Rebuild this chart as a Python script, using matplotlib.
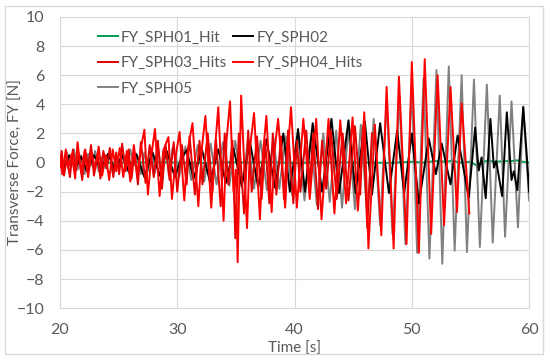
import matplotlib.pyplot as plt
from matplotlib.patches import Rectangle

plt.rcParams['font.family'] = ['Lato', 'DejaVu Sans']

# ---- data (time [s], force [N]) ----
t_sph01 = [20, 22, 24, 26, 28, 30, 32, 34, 36, 38, 40, 42, 44, 46, 48, 50,
           51, 52, 53, 53.5, 54, 55, 55.5, 56, 56.5, 57, 58, 58.5, 59, 59.5, 60]
fy_sph01 = [0.0, 0.02, -0.02, 0.0, 0.03, 0.0, -0.03, 0.02, 0.0, 0.03, -0.02, 0.0, 0.02, 0.0, -0.02, 0.05,
            0.0, 0.1, 0.05, 0.15, 0.0, 0.05, -0.2, 0.0, 0.15, 0.05, 0.1, 0.1, 0.15, 0.05, 0.0]

t_sph02 = [20.0, 20.4, 20.8, 21.3, 21.8, 22.3, 22.9, 23.5, 24.1, 24.7, 25.3, 25.9, 26.5, 27.2, 27.9,
           28.5, 29.1, 29.8, 30.3, 30.8, 31.4, 32.1, 32.8, 33.5, 34.15, 34.8, 35.5, 36.2, 36.9, 37.6,
           38.35, 39.05, 39.6, 40.3, 40.9, 41.55, 42.35, 43.15, 43.8, 44.6, 45.2, 46.0, 46.6, 47.3,
           48.05, 48.75, 49.35, 50.0, 50.6, 51.45, 52.05, 52.55, 53.3, 53.9, 54.85, 55.4, 55.7, 55.95,
           56.3, 56.7, 57.0, 57.2, 57.7, 58.1, 58.5, 58.7, 59.0, 59.5, 59.8, 60.0]
fy_sph02 = [0.3, -0.3, 0.5, -0.4, 0.4, -0.6, 0.5, -0.5, 0.6, -0.5, 0.5, -0.7, 0.6, -1.0, 0.7,
            -0.9, 0.8, -1.0, 0.2, 0.85, -1.1, 0.9, -1.35, 0.9, -1.4, 0.95, -1.6, 1.4, -1.7, 1.6,
            -1.75, 2.0, -2.0, 2.3, -2.0, 2.7, -2.0, 3.0, -2.1, 2.9, -2.1, 2.8, -2.2, 2.7,
            -2.1, 2.2, -2.1, 2.0, -2.8, 1.65, -0.8, 1.3, -1.5, 1.85, -2.4, 2.4, -0.55, 0.35,
            -2.45, 3.0, -0.35, 0.1, -2.3, 3.45, -1.2, -0.6, -1.9, 3.8, 0.5, -2.0]

t_sph03 = [20.0, 20.15, 20.35, 20.6, 20.85, 21.1, 21.35, 21.6, 21.9, 22.15, 22.4, 22.65, 22.9, 23.2,
           23.45, 23.7, 24.0, 24.25, 24.55, 24.8, 25.05, 25.3, 25.6, 25.85, 26.1, 26.35, 26.65, 26.9,
           27.3, 27.65, 28.0, 28.35, 28.7, 29.0, 29.35, 29.7, 30.0, 30.4, 30.8, 31.05, 31.5, 31.9,
           32.15, 32.6, 33.0, 33.3, 33.7, 34.05, 34.35, 34.7, 34.95, 35.25, 35.7, 36.05, 36.35, 36.8,
           37.2, 37.5, 37.85, 38.15, 38.45, 38.85, 39.1, 39.45, 39.9, 40.2, 40.5, 41.0, 41.3, 41.6,
           42.0, 42.35, 42.7, 43.1, 43.6, 44.1, 44.6, 45.15, 45.6, 45.85, 46.2, 46.6]
fy_sph03 = [-0.3, 0.8, -0.9, 0.4, -1.0, 0.9, -0.5, 0.6, -1.2, 0.9, -0.3, 1.2, -0.9, 0.6,
            -1.1, 0.8, -0.4, 1.0, -1.0, 0.7, -0.8, 1.3, -0.6, 0.9, -1.1, 0.6, -1.5, 1.4,
            -1.4, 1.2, -1.0, 1.5, -1.8, 1.2, -1.2, 1.4, -2.0, 1.2, -1.5, 1.8, -2.2, 1.5,
            -1.5, 2.0, -2.0, 1.6, -3.0, 2.0, -1.5, 1.5, -5.2, 2.0, -3.5, 2.2, -2.0, 1.8,
            -2.5, 1.5, -2.8, 2.0, -2.2, 1.8, -2.5, 2.2, -2.8, 1.5, -2.0, 2.2, -1.5, 2.0,
            -3.2, 1.5, -1.8, 2.2, -2.5, 2.0, -2.6, 2.5, -2.2, 2.5, -4.5, 2.0]

t_sph04 = [20.0, 20.2, 20.5, 20.7, 21.0, 21.3, 21.5, 21.8, 22.1, 22.4, 22.7, 23.0, 23.3, 23.6,
           23.9, 24.2, 24.5, 24.8, 25.1, 25.4, 25.7, 26.0, 26.3, 26.6, 26.9, 27.2, 27.5, 27.8,
           28.1, 28.5, 28.8, 29.25, 29.55, 29.9, 30.2, 30.6, 30.9, 31.3, 31.8, 32.1, 32.4, 32.9,
           33.2, 33.5, 33.95, 34.2, 34.5, 34.8, 35.0, 35.15, 35.45, 35.95, 36.2, 36.55, 37.05, 37.3,
           37.6, 38.05, 38.3, 38.6, 39.2, 39.45, 39.7, 40.2, 40.75, 41.3, 41.85, 42.3, 42.9, 43.4,
           43.9, 44.4, 44.95, 45.4, 45.95, 46.3, 46.85, 47.4, 47.85, 48.45, 48.9, 49.55, 50.0, 50.6,
           51.1, 51.65, 52.2, 52.75, 53.3, 53.85, 54.25, 54.9]
fy_sph04 = [0.5, -0.8, 0.9, -0.4, 0.6, -1.1, 1.4, -0.7, 0.8, -1.0, 0.7, -0.5, 1.1, -0.9,
            0.5, -1.2, 0.9, -0.6, 1.0, -1.0, 0.8, -1.3, 1.2, -0.8, 1.0, 2.25, -2.2, 0.5,
            2.3, -2.3, 0.8, 1.75, -2.5, 0.6, 2.1, -2.6, 0.9, 2.7, -3.0, 1.0, 3.2, -3.1,
            0.8, 3.8, -4.0, 1.5, 4.2, -2.0, -0.5, -6.85, 4.6, -4.5, 1.0, 3.4, -3.9, 0.5,
            3.2, -3.4, 0.8, 3.0, -3.1, 1.0, 3.8, -3.1, 3.0, -2.5, 3.0, -3.9, 3.0, -3.5,
            2.9, -2.8, 3.1, -3.3, 3.45, -5.9, 2.6, -5.0, 5.2, -5.9, 5.9, -5.6, 6.9, -6.2,
            7.1, -4.9, 6.0, -4.3, 5.2, -3.4, 4.05, -3.5]

t_sph05 = [20.0, 20.3, 20.6, 20.9, 21.2, 21.5, 21.8, 22.1, 22.4, 22.7, 23.0, 23.3, 23.6, 23.9,
           24.2, 24.5, 24.8, 25.1, 25.4, 25.7, 26.0, 26.3, 26.6, 26.9, 27.2, 27.5, 27.8, 28.1,
           28.4, 28.7, 29.0, 29.3, 29.6, 29.9, 30.15, 30.7, 31.2, 31.75, 32.3, 32.85, 33.35, 33.9,
           34.45, 34.95, 35.5, 36.05, 36.55, 37.1, 37.65, 38.2, 38.7, 39.25, 39.8, 40.3, 40.85, 41.4,
           41.9, 42.45, 43.0, 43.55, 44.05, 44.6, 45.15, 45.65, 46.2, 46.75, 47.3, 47.85, 48.35, 48.95,
           49.45, 50.0, 50.45, 51.0, 51.5, 52.1, 52.6, 53.15, 53.65, 54.25, 54.7, 55.3, 55.8, 56.4,
           56.9, 57.5, 57.95, 58.5, 59.05, 59.5, 60.0]
fy_sph05 = [0.4, -0.6, 0.7, -0.3, 0.9, -0.5, 0.5, -0.8, 0.6, -0.2, 0.8, -0.6, 0.4, -0.4,
            0.7, -0.7, 0.3, -0.3, 0.6, -0.5, 0.9, -0.2, 0.5, -0.8, 0.7, -0.6, 1.0, -0.7,
            0.8, -1.0, 1.1, -0.9, 1.0, 0.3, -1.0, 1.1, -1.2, 1.2, -1.3, 1.3, -1.5, 1.4,
            -1.6, 1.5, -1.7, 1.6, -1.8, 1.5, -1.9, 1.7, -1.8, 1.8, -2.2, 1.9, -2.6, 1.7,
            -2.9, 2.0, -2.7, 2.2, -3.1, 2.4, -3.2, 2.6, -3.6, 3.0, -4.3, 4.3, -4.9, 4.5,
            -5.6, 5.3, -6.2, 5.8, -6.6, 6.35, -6.95, 6.6, -6.05, 6.0, -6.15, 5.7, -5.8, 5.35,
            -5.5, 4.6, -5.1, 4.2, -4.45, 3.85, -2.6]

xticks = [20, 30, 40, 50, 60]
yticks = [-10, -8, -6, -4, -2, 0, 2, 4, 6, 8, 10]

txt = '#595959'
grid = '#D9D9D9'

fig = plt.figure(figsize=(5.5, 3.6), dpi=100)
ax = fig.add_axes([0.109, 0.144, 0.853, 0.809])

lw = 1.4
l1, = ax.plot(t_sph01, fy_sph01, color='#00A050', lw=lw, label='FY_SPH01_Hit', zorder=2)
l5, = ax.plot(t_sph05, fy_sph05, color='#808080', lw=lw, label='FY_SPH05', zorder=3)
l2, = ax.plot(t_sph02, fy_sph02, color='black', lw=lw, label='FY_SPH02', zorder=4)
l3, = ax.plot(t_sph03, fy_sph03, color='#E00000', lw=lw, label='FY_SPH03_Hits', zorder=5)
l4, = ax.plot(t_sph04, fy_sph04, color='#FF0000', lw=lw, label='FY_SPH04_Hits', zorder=5)

ax.set_xlim(20, 60)
ax.set_ylim(-10, 10)
ax.set_xticks(xticks)
ax.set_yticks(yticks)
ax.grid(True, color=grid, lw=0.8, zorder=0)
ax.set_axisbelow(True)
for s in ax.spines.values():
    s.set_color(grid)
ax.tick_params(axis='y', length=0, labelsize=11.5, labelcolor=txt, pad=11)
ax.tick_params(axis='x', length=0, labelsize=11.5, labelcolor=txt, pad=11)

ax.set_xlabel('Time [s]', fontsize=11, color=txt)
ax.xaxis.set_label_coords(0.5, -0.115)
ax.set_ylabel('Transverse Force, FY [N]', fontsize=11, color=txt)
ax.yaxis.set_label_coords(-0.08, 0.5)

ax.legend(handles=[l1, l3, l5, l2, l4], ncol=2, loc='upper left',
          bbox_to_anchor=(0.055, 0.995), frameon=False, fontsize=11,
          labelcolor=txt, handlelength=1.3, handletextpad=0.2,
          columnspacing=0.4, labelspacing=0.75, borderpad=0.3)

fig.patches.append(Rectangle((5 / 550, 6 / 360), 538 / 550, 348 / 360,
                             transform=fig.transFigure, fill=False,
                             edgecolor=grid, lw=1))

fig.savefig('out.png', dpi=100)
